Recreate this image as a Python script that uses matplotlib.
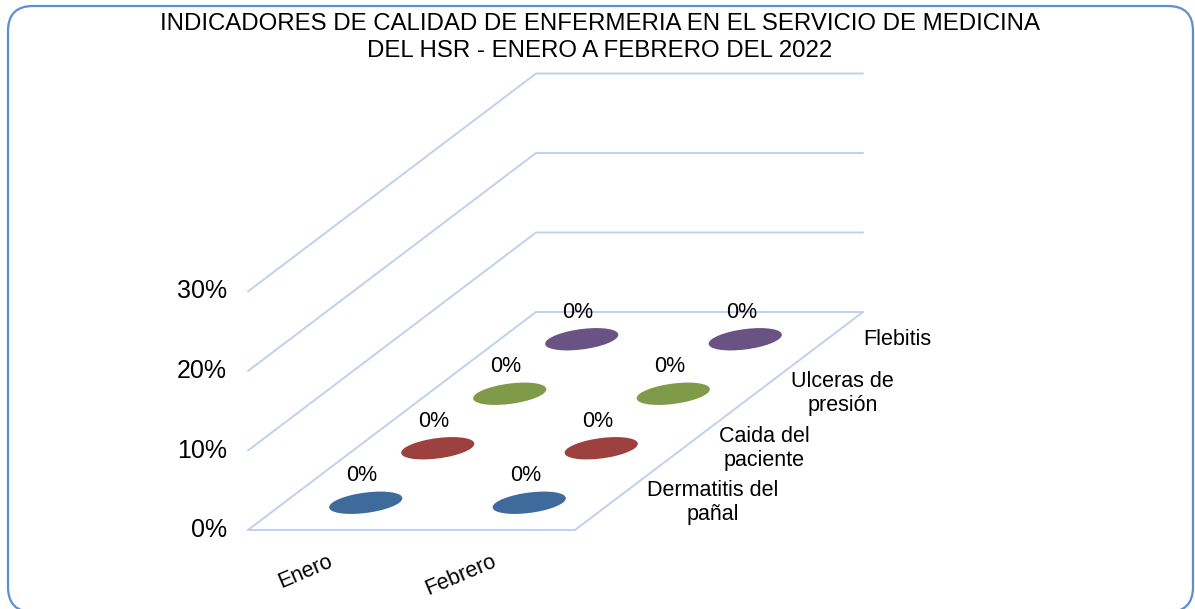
import numpy as np
import matplotlib
matplotlib.use("Agg")
import matplotlib.pyplot as plt
from matplotlib.patches import Circle, FancyBboxPatch
from matplotlib.transforms import Affine2D, IdentityTransform

plt.rcParams["font.family"] = ["Liberation Sans", "DejaVu Sans"]

# chart data
title = ("INDICADORES DE CALIDAD DE ENFERMERIA EN EL SERVICIO DE MEDICINA\n"
         "DEL HSR - ENERO A FEBRERO DEL 2022")
categories = ["Enero", "Febrero"]
series_names = ["Dermatitis del\npañal", "Caida del\npaciente",
                "Ulceras de\npresión", "Flebitis"]
dermatitis = [0, 0]
caida = [0, 0]
ulceras = [0, 0]
flebitis = [0, 0]
y_ticks = [0, 10, 20, 30]

series_values = [dermatitis, caida, ulceras, flebitis]
series_colors = ["#3E6A9C", "#9D413F", "#7F9A48", "#6A5285"]
grid_color = "#BED2EE"
text_color = "black"

# figure in pixel units
W, H = 1195, 609
fig = plt.figure(figsize=(W / 100, H / 100), dpi=100)
ax = fig.add_axes([0, 0, 1, 1])
ax.set_xlim(0, W)
ax.set_ylim(H, 0)
ax.axis("off")

# oblique 3D projection: u = category, v = series depth, z = value (%)
x0, y0 = 248, 530
cat_w = 163.5
depth_dx, depth_dy = 72, -54.5
z_scale = 7.95

floor_tr = Affine2D(np.array([[cat_w, depth_dx, x0],
                              [0.0, depth_dy, y0],
                              [0.0, 0.0, 1.0]]))


def proj(u, v, z=0.0):
    return (x0 + u * cat_w + v * depth_dx,
            y0 + v * depth_dy - z * z_scale)


n_cat = len(categories)
n_ser = len(series_names)

# walls gridlines (left side wall + back wall)
for t in y_ticks:
    pts = [proj(0, 0, t), proj(0, n_ser, t), proj(n_cat, n_ser, t)]
    xs, ys = zip(*pts)
    ax.plot(xs, ys, color=grid_color, lw=1.4, solid_capstyle="round")

# floor outline
pts = [proj(0, 0), proj(n_cat, 0), proj(n_cat, n_ser), proj(0, n_ser)]
xs, ys = zip(*pts)
ax.plot(xs, ys, color=grid_color, lw=1.4)

# column tops (values are zero so only the discs show)
for j in range(n_ser - 1, -1, -1):
    for i in range(n_cat):
        val = series_values[j][i]
        disc = Circle((i + 0.5, j + 0.5), 0.205, facecolor=series_colors[j],
                      edgecolor="none",
                      transform=floor_tr + Affine2D().translate(0, -val * z_scale) + ax.transData)
        ax.add_patch(disc)
        cx, cy = proj(i + 0.5, j + 0.5, val)
        ax.text(cx - 4, cy - 27, f"{val:.0f}%", ha="center", va="center",
                fontsize=15.5, color=text_color)

# value axis labels
for t in y_ticks:
    px, py = proj(0, 0, t)
    ax.text(px - 21, py, f"{t}%", ha="right", va="center", fontsize=18,
            color=text_color)

# category labels
for i, name in enumerate(categories):
    px, py = proj(i + 0.5, 0)
    ax.text(px - 2, py + 21, name, ha="right", va="top", rotation=23,
            rotation_mode="anchor", fontsize=15.5, color=text_color)

# series labels along the depth axis
for j, name in enumerate(series_names):
    px, py = proj(n_cat, j + 0.5)
    ax.text(px + 36, py, name, ha="left", va="center", multialignment="center",
            fontsize=15.5, color=text_color, linespacing=1.2)

# title
ax.text(600, 37.5, title, ha="center", va="center", fontsize=17.3,
        color=text_color, linespacing=1.25)

# rounded chart border (display pixels, y up)
border = FancyBboxPatch((8, H - 612), 1185, 606,
                        boxstyle="round,pad=0,rounding_size=25",
                        facecolor="none", edgecolor="#5A8ED6", lw=1.6,
                        transform=IdentityTransform())
fig.add_artist(border)

fig.savefig("out.png", dpi=100)
